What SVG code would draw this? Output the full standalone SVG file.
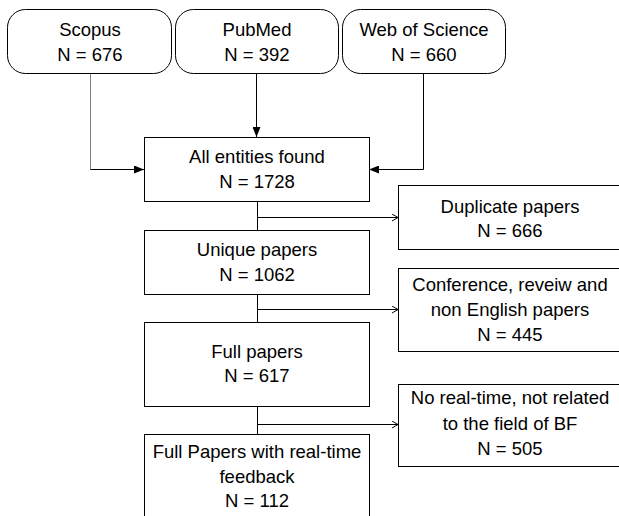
<svg xmlns="http://www.w3.org/2000/svg" width="619" height="516" viewBox="0 0 619 516">
<style>
.box{fill:#fff;stroke:#000;stroke-width:1}
.t{font-family:"Liberation Sans",Arial,sans-serif;font-size:18.5px;fill:#000;text-anchor:middle}
.c{fill:none;stroke:#000;stroke-width:1}
</style>
<defs>
<marker id="fa" markerWidth="10" markerHeight="8" refX="10" refY="4" orient="auto" markerUnits="userSpaceOnUse"><path d="M0,0 L10,4 L0,8 Z" fill="#000"/></marker>
<marker id="oa" markerWidth="6" markerHeight="8" refX="6" refY="4" orient="auto" markerUnits="userSpaceOnUse"><path d="M0,0.5 L6,4 L0,7.5" fill="none" stroke="#000" stroke-width="1"/></marker>
</defs>
<g id="connectors">
<path d="M90.5,73 V169.5 H134" class="c" style="stroke:#808080"/>
<path d="M90.5,169.5 H144" class="c" marker-end="url(#fa)"/>
<path d="M256.5,73 V137" class="c" marker-end="url(#fa)"/>
<path d="M423.5,73 V169.5 H369" class="c" marker-end="url(#fa)"/>
<path d="M257.5,201 V230" class="c"/>
<path d="M257.5,217.5 H398" class="c" marker-end="url(#oa)"/>
<path d="M257.5,294 V322" class="c"/>
<path d="M257.5,309.5 H398" class="c" marker-end="url(#oa)"/>
<path d="M257.5,406 V434" class="c"/>
<path d="M257.5,424.5 H398" class="c" marker-end="url(#oa)"/>
</g>
<g id="scopus"><rect class="box" x="7.5" y="9.5" width="164" height="64" rx="18"/><text class="t" x="90" y="36">Scopus</text><text class="t" x="90" y="61">N = 676</text></g>
<g id="pubmed"><rect class="box" x="175.5" y="9.5" width="163" height="64" rx="18"/><text class="t" x="257" y="36">PubMed</text><text class="t" x="257" y="61">N = 392</text></g>
<g id="wos"><rect class="box" x="342.5" y="9.5" width="163" height="64" rx="18"/><text class="t" x="424" y="36">Web of Science</text><text class="t" x="424" y="61">N = 660</text></g>
<g id="all"><rect class="box" x="144.5" y="137.5" width="225" height="64"/><text class="t" x="257" y="163">All entities found</text><text class="t" x="257" y="188">N = 1728</text></g>
<g id="unique"><rect class="box" x="144.5" y="230.5" width="225" height="64"/><text class="t" x="257" y="256">Unique papers</text><text class="t" x="257" y="281">N = 1062</text></g>
<g id="full"><rect class="box" x="144.5" y="322.5" width="225" height="84"/><text class="t" x="257" y="358">Full papers</text><text class="t" x="257" y="382">N = 617</text></g>
<g id="final"><rect class="box" x="144.5" y="434.5" width="225" height="100"/><text class="t" x="257" y="458">Full Papers with real-time</text><text class="t" x="257" y="483">feedback</text><text class="t" x="257" y="507">N = 112</text></g>
<g id="dup"><rect class="box" x="398.5" y="185.5" width="230" height="64"/><text class="t" x="510" y="213">Duplicate papers</text><text class="t" x="510" y="237">N = 666</text></g>
<g id="conf"><rect class="box" x="398.5" y="268.5" width="230" height="83"/><text class="t" x="510" y="291">Conference, reveiw and</text><text class="t" x="510" y="316">non English papers</text><text class="t" x="510" y="341">N = 445</text></g>
<g id="norl"><rect class="box" x="398.5" y="384.5" width="230" height="82"/><text class="t" x="510" y="404">No real-time, not related</text><text class="t" x="510" y="430">to the field of BF</text><text class="t" x="510" y="455">N = 505</text></g>
</svg>
